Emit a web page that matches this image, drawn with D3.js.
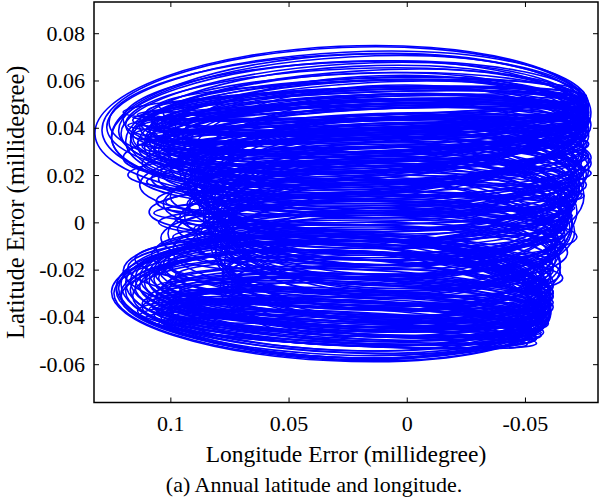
<!DOCTYPE html>
<html>
<head>
<meta charset="utf-8">
<script src="https://cdn.jsdelivr.net/npm/d3@7"></script>
<style>
body { margin: 0; background: #fff; }
svg text { font-family: "Liberation Serif", "Times New Roman", serif; fill: #000; }
</style>
</head>
<body>
<svg id="chart" width="600" height="504"></svg>
<script>
// daily error loops: centre (lon, lat), half width, half height (millidegree), tilt (deg)
// one line per group: upper, thin upper, middle, middle 2, centre, lower, thin lower,
// inner (two lines), upper 3, lower 3
const loopLon = [
  0.027,0.026,0.025,0.024,0.026,0.023,0.025,0.022,0.024,0.021,0.023,0.020,0.022,0.019,0.021,0.018,0.020,0.017,0.019,0.016,0.018,0.015,0.017,0.014,0.016,0.013,0.015,0.012,0.014,0.011,
  0.022,0.020,0.021,0.019,0.020,0.018,0.019,0.017,0.018,0.016,0.017,0.015,0.016,0.014,0.015,0.013,0.014,0.012,0.013,0.012,
  0.0185,0.011,0.0235,0.0075,0.0165,0.0105,0.0085,0.013,0.0095,0.016,0.0075,0.014,0.011,0.018,0.0075,0.014,0.0185,0.0115,0.015,0.0095,0.0165,0.0095,0.014,0.0225,0.010,0.0185,0.0135,0.009,0.0155,0.011,
  0.022,0.0105,0.015,0.0085,0.014,0.0115,0.0195,0.0095,0.015,0.020,0.012,0.0235,0.025,0.0125,0.0205,0.010,0.0175,0.014,0.0075,0.019,0.013,0.0195,0.0265,0.030,0.010,
  0.0065,0.006,0.0075,0.005,0.0065,0.0085,0.0035,0.0065,0.005,0.010,0.009,0.0035,0.0085,0.010,0.0095,
  0.032,0.031,0.033,0.030,0.032,0.029,0.031,0.028,0.030,0.027,0.029,0.026,0.028,0.025,0.027,0.024,0.026,0.023,0.025,0.022,0.024,0.021,0.023,0.020,0.022,0.033,0.031,0.034,0.029,0.030,
  0.028,0.027,0.029,0.026,0.028,0.025,0.027,0.024,0.026,0.023,0.025,0.022,0.024,0.021,0.023,0.020,0.022,0.019,0.021,0.020,0.025,0.024,0.018,0.021,0.019,
  0.010,0.008,0.009,0.007,0.010,0.006,0.009,0.005,0.008,0.004,0.007,0.003,0.006,0.004,0.007,0.005,0.008,0.006,0.009,0.007,
  0.011,0.008,0.010,0.006,0.009,0.005,0.008,0.006,0.009,0.007,0.012,0.004,0.011,0.003,0.010,0.002,0.009,0.004,0.010,0.006,
  0.020,0.018,0.021,0.017,0.019,0.016,0.018,0.015,0.017,0.014,0.016,0.013,0.015,0.012,0.014,
  0.026,0.024,0.027,0.023,0.025,0.022,0.024,0.021,0.023,0.020,0.022,0.019,0.021,0.026,0.018
];
const loopLat = [
  0.042,0.043,0.045,0.041,0.046,0.044,0.040,0.047,0.043,0.039,0.045,0.042,0.038,0.046,0.041,0.037,0.044,0.040,0.036,0.043,0.039,0.035,0.042,0.038,0.034,0.041,0.037,0.033,0.040,0.036,
  0.050,0.047,0.044,0.049,0.041,0.046,0.038,0.043,0.036,0.045,0.040,0.034,0.048,0.039,0.032,0.042,0.035,0.030,0.037,0.044,
  0.028,0.025,0.022,0.030,0.020,0.026,0.017,0.023,0.015,0.019,0.012,0.010,0.008,0.005,0.004,0.002,0.000,-0.002,0.007,-0.004,-0.006,-0.008,-0.010,-0.012,0.013,0.018,0.003,-0.001,0.009,-0.005,
  0.030,0.024,0.020,0.016,0.012,0.008,0.005,0.001,-0.003,-0.007,-0.011,-0.015,-0.019,0.026,0.022,0.014,0.010,0.003,-0.001,-0.005,-0.009,-0.013,-0.017,-0.021,0.018,
  0.012,0.006,0.016,0.002,0.010,0.008,-0.002,0.014,0.004,0.018,-0.006,0.000,0.020,-0.010,0.024,
  -0.034,-0.033,-0.032,-0.034,-0.031,-0.033,-0.030,-0.032,-0.029,-0.031,-0.028,-0.030,-0.027,-0.029,-0.026,-0.028,-0.025,-0.027,-0.024,-0.026,-0.023,-0.022,-0.021,-0.020,-0.019,-0.035,-0.036,-0.033,-0.035,-0.024,
  -0.042,-0.040,-0.044,-0.038,-0.045,-0.036,-0.041,-0.039,-0.043,-0.035,-0.037,-0.033,-0.040,-0.031,-0.034,-0.029,-0.038,-0.027,-0.032,-0.036,-0.047,-0.030,-0.025,-0.044,-0.034,
  0.040,0.036,0.032,0.028,0.024,0.020,0.016,0.012,0.008,0.004,0.000,-0.004,-0.008,-0.012,-0.016,-0.020,-0.024,-0.028,-0.032,-0.036,
  0.038,0.030,0.022,0.014,0.006,-0.002,-0.010,-0.018,-0.026,-0.034,0.044,0.026,0.018,0.010,0.002,-0.006,-0.014,-0.022,-0.030,-0.040,
  0.048,0.045,0.043,0.050,0.040,0.047,0.037,0.044,0.034,0.046,0.041,0.038,0.052,0.035,0.049,
  -0.046,-0.043,-0.041,-0.039,-0.048,-0.037,-0.045,-0.035,-0.042,-0.033,-0.040,-0.031,-0.038,-0.044,-0.036
];
const loopRx = [
  0.105,0.103,0.102,0.101,0.100,0.099,0.100,0.098,0.097,0.098,0.096,0.097,0.095,0.094,0.095,0.096,0.093,0.094,0.092,0.093,0.091,0.092,0.090,0.091,0.089,0.090,0.088,0.089,0.087,0.088,
  0.098,0.096,0.097,0.095,0.096,0.094,0.095,0.093,0.094,0.092,0.093,0.092,0.091,0.091,0.090,0.090,0.089,0.089,0.088,0.088,
  0.0935,0.089,0.0945,0.0845,0.0915,0.0865,0.0795,0.091,0.0855,0.094,0.0785,0.088,0.082,0.089,0.0765,0.084,0.0865,0.0785,0.086,0.0775,0.0825,0.0735,0.080,0.0835,0.081,0.0945,0.0825,0.076,0.0875,0.078,
  0.098,0.0845,0.090,0.0805,0.086,0.0805,0.0895,0.0765,0.082,0.084,0.076,0.0845,0.087,0.0855,0.0935,0.080,0.0885,0.080,0.0755,0.082,0.078,0.0795,0.0885,0.088,0.083,
  0.0785,0.074,0.0825,0.073,0.0815,0.0735,0.0725,0.0795,0.074,0.082,0.072,0.0735,0.0855,0.073,0.0865,
  0.093,0.092,0.090,0.091,0.089,0.090,0.088,0.089,0.087,0.088,0.086,0.087,0.085,0.086,0.084,0.085,0.083,0.084,0.082,0.083,0.081,0.082,0.080,0.081,0.079,0.091,0.090,0.088,0.087,0.090,
  0.086,0.085,0.084,0.086,0.083,0.085,0.082,0.084,0.081,0.083,0.082,0.084,0.080,0.083,0.081,0.082,0.079,0.081,0.080,0.078,0.080,0.082,0.080,0.078,0.079,
  0.085,0.084,0.083,0.082,0.082,0.080,0.080,0.078,0.077,0.076,0.075,0.074,0.073,0.072,0.072,0.070,0.070,0.068,0.068,0.066,
  0.084,0.083,0.081,0.079,0.077,0.075,0.073,0.071,0.069,0.067,0.086,0.081,0.081,0.078,0.076,0.074,0.072,0.070,0.069,0.065,
  0.096,0.094,0.095,0.093,0.094,0.092,0.093,0.091,0.092,0.090,0.091,0.089,0.090,0.088,0.089,
  0.078,0.081,0.079,0.080,0.076,0.079,0.077,0.078,0.076,0.077,0.075,0.077,0.074,0.078,0.075
];
const loopRy = [
  0.0325,0.031,0.027,0.030,0.025,0.026,0.028,0.021,0.024,0.027,0.020,0.022,0.025,0.017,0.020,0.023,0.016,0.019,0.021,0.014,0.017,0.019,0.012,0.015,0.018,0.011,0.014,0.016,0.010,0.012,
  0.006,0.008,0.005,0.004,0.007,0.009,0.006,0.005,0.008,0.007,0.010,0.006,0.009,0.004,0.007,0.008,0.005,0.009,0.011,0.006,
  0.012,0.015,0.010,0.008,0.013,0.011,0.009,0.014,0.011,0.008,0.010,0.007,0.012,0.006,0.009,0.005,0.008,0.006,0.004,0.009,0.007,0.010,0.008,0.011,0.016,0.018,0.014,0.013,0.017,0.015,
  0.014,0.019,0.012,0.020,0.015,0.018,0.013,0.017,0.012,0.016,0.011,0.014,0.010,0.010,0.016,0.022,0.011,0.021,0.010,0.019,0.013,0.018,0.012,0.015,0.014,
  0.030,0.028,0.026,0.030,0.029,0.024,0.027,0.030,0.022,0.026,0.025,0.030,0.024,0.027,0.020,
  0.0245,0.024,0.025,0.022,0.026,0.021,0.024,0.020,0.023,0.019,0.022,0.018,0.021,0.017,0.020,0.016,0.019,0.015,0.018,0.014,0.017,0.013,0.016,0.012,0.015,0.023,0.021,0.0245,0.020,0.020,
  0.009,0.011,0.008,0.010,0.007,0.012,0.006,0.009,0.008,0.010,0.007,0.011,0.005,0.009,0.008,0.010,0.006,0.008,0.012,0.007,0.005,0.006,0.009,0.006,0.010,
  0.012,0.018,0.010,0.022,0.014,0.026,0.011,0.020,0.016,0.028,0.013,0.024,0.018,0.015,0.021,0.012,0.017,0.014,0.010,0.012,
  0.024,0.028,0.030,0.032,0.030,0.030,0.027,0.024,0.020,0.016,0.016,0.008,0.022,0.006,0.020,0.010,0.026,0.009,0.022,0.008,
  0.003,0.005,0.008,0.007,0.004,0.010,0.006,0.012,0.009,0.005,0.013,0.003,0.008,0.011,0.012,
  0.006,0.004,0.008,0.005,0.004,0.007,0.003,0.006,0.009,0.004,0.007,0.008,0.005,0.011,0.010
];
const loopTilt = [
  -2.6,-2.4,-2.8,-3.0,-2.2,-3.2,-2.5,-2.0,-3.4,-2.9,-2.3,-3.6,-2.7,-2.1,-3.1,-2.6,-2.4,-3.3,-2.8,-2.2,-3.0,-2.5,-2.0,-2.9,-2.4,-1.8,-2.7,-2.2,-1.9,-2.5,
  -2.0,-2.3,-1.8,-2.1,-2.5,-2.2,-2.6,-1.9,-2.4,-2.0,-2.7,-2.2,-1.7,-2.3,-2.5,-2.0,-2.4,-2.1,-2.6,-1.9,
  -1.8,-1.5,-1.2,-2.0,-1.0,-1.6,-0.8,-1.3,-0.6,-1.1,-0.5,-0.9,-0.3,-0.7,-0.2,-0.6,0.0,-0.4,-0.8,0.2,-0.2,0.4,0.1,0.5,-1.0,-1.4,-0.5,0.0,-0.8,0.3,
  -1.6,-1.3,-1.1,-0.9,-0.8,-0.6,-0.4,-0.2,0.1,0.3,0.5,0.8,1.0,-1.4,-1.2,-1.0,-0.7,-0.3,0.0,0.2,0.4,0.7,0.9,1.2,-1.3,
  -1.0,-0.5,-1.2,0.0,-0.8,-0.3,0.4,-1.1,-0.6,-1.5,0.8,-0.2,-1.7,1.0,-2.0,
  3.0,2.8,3.2,2.5,3.4,2.6,3.0,2.2,2.9,2.4,3.1,2.0,2.7,2.3,2.9,1.9,2.5,2.1,2.6,1.8,2.4,1.6,2.2,1.5,2.0,3.3,2.9,3.5,2.7,2.3,
  3.0,2.7,3.2,2.5,2.9,2.4,3.1,2.6,2.8,2.2,2.7,2.0,2.9,2.1,2.5,1.8,2.6,1.7,2.3,2.4,3.0,2.0,1.6,2.8,2.1,
  -2.0,-1.8,-1.6,-1.5,-1.3,-1.2,-1.0,-0.8,-0.6,-0.4,-0.2,0.0,0.3,0.6,0.9,1.2,1.5,1.8,2.1,2.4,
  -1.9,-1.7,-1.4,-1.1,-0.7,-0.3,0.4,1.0,1.6,2.2,-2.1,-1.5,-1.2,-0.9,-0.5,0.1,0.7,1.3,1.9,2.6,
  -2.2,-2.0,-2.4,-1.9,-2.5,-2.1,-2.3,-2.0,-2.6,-1.8,-2.2,-2.4,-1.7,-2.1,-1.9,
  2.9,2.6,3.0,2.4,2.8,2.3,2.7,2.2,2.5,2.0,2.6,1.9,2.4,2.8,2.2
];

const xTicks = [0.1, 0.05, 0, -0.05];
const xTickLabels = ["0.1", "0.05", "0", "-0.05"];
const yTicks = [0.08, 0.06, 0.04, 0.02, 0, -0.02, -0.04, -0.06];
const yTickLabels = ["0.08", "0.06", "0.04", "0.02", "0", "-0.02", "-0.04", "-0.06"];

const plotLeft = 94, plotRight = 598, plotTop = 2, plotBottom = 402.5;
const serif = '"Liberation Serif", "Times New Roman", serif';

const svg = d3.select("#chart");

const x = d3.scaleLinear().domain([0.1323, -0.0809]).range([plotLeft, plotRight]);
const y = d3.scaleLinear().domain([-0.0762, 0.0932]).range([plotBottom, plotTop]);

const loops = loopLon.map((lon, i) => ({
  lon: lon, lat: loopLat[i], rx: loopRx[i], ry: loopRy[i], tilt: loopTilt[i]
}));

svg.append("clipPath").attr("id", "plot-clip")
  .append("rect")
  .attr("x", plotLeft).attr("y", plotTop)
  .attr("width", plotRight - plotLeft).attr("height", plotBottom - plotTop);

svg.append("g")
  .attr("clip-path", "url(#plot-clip)")
  .selectAll("ellipse")
  .data(loops)
  .join("ellipse")
  .attr("cx", d => x(d.lon))
  .attr("cy", d => y(d.lat))
  .attr("rx", d => Math.abs(x(d.rx) - x(0)))
  .attr("ry", d => Math.abs(y(d.ry) - y(0)))
  .attr("transform", d => `rotate(${d.tilt},${x(d.lon)},${y(d.lat)})`)
  .attr("fill", "none")
  .attr("stroke", "#0000ff")
  .attr("stroke-width", 1.6);

// axes, ticks pointing inwards on all four sides
svg.append("g")
  .attr("transform", `translate(0,${plotBottom})`)
  .call(d3.axisBottom(x).tickValues(xTicks).tickSize(-5).tickPadding(13)
    .tickFormat((d, i) => xTickLabels[i]));
svg.append("g")
  .attr("transform", `translate(0,${plotTop})`)
  .call(d3.axisTop(x).tickValues(xTicks).tickSize(-5).tickFormat(""));
svg.append("g")
  .attr("transform", `translate(${plotLeft},0)`)
  .call(d3.axisLeft(y).tickValues(yTicks).tickSize(-5).tickPadding(9)
    .tickFormat((d, i) => yTickLabels[i]));
svg.append("g")
  .attr("transform", `translate(${plotRight},0)`)
  .call(d3.axisRight(y).tickValues(yTicks).tickSize(-5).tickFormat(""));

svg.selectAll(".domain").remove();
svg.selectAll(".tick line").attr("stroke", "#000").attr("stroke-width", 1);
svg.selectAll(".tick text").attr("font-size", 22).attr("font-family", serif);

svg.append("rect")
  .attr("x", plotLeft).attr("y", plotTop)
  .attr("width", plotRight - plotLeft).attr("height", plotBottom - plotTop)
  .attr("fill", "none").attr("stroke", "#000").attr("stroke-width", 1.5);

svg.append("text")
  .attr("x", (plotLeft + plotRight) / 2).attr("y", 462)
  .attr("text-anchor", "middle").attr("font-size", 23.5).attr("font-family", serif)
  .text("Longitude Error (millidegree)");

svg.append("text")
  .attr("transform", `translate(24,${(plotTop + plotBottom) / 2}) rotate(-90)`)
  .attr("text-anchor", "middle").attr("font-size", 24.5).attr("font-family", serif)
  .text("Latitude Error (millidegree)");

svg.append("text")
  .attr("x", 314).attr("y", 492)
  .attr("text-anchor", "middle").attr("font-size", 22).attr("font-family", serif)
  .text("(a) Annual latitude and longitude.");
</script>
</body>
</html>
